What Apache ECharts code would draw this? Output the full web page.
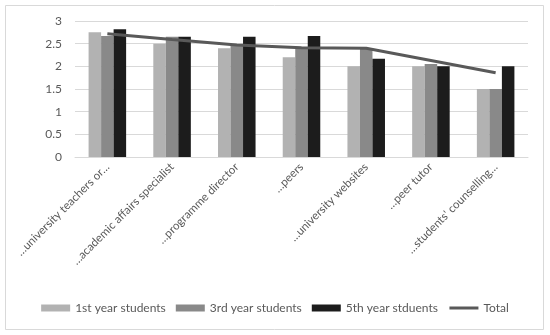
<!DOCTYPE html>
<html><head><meta charset="utf-8">
<script src="https://cdn.jsdelivr.net/npm/echarts@6/dist/echarts.min.js"></script>
<style>html,body{margin:0;padding:0;background:#fff}#c{width:550px;height:335px}</style>
</head><body><div id="c"></div>
<script>
const categories = ["…university teachers or…","…academic affairs specialist","…programme director","…peers","…university websites","…peer tutor","…students' counselling…"];
const firstYear = [2.75, 2.5, 2.4, 2.2, 2.0, 2.0, 1.5];
const thirdYear = [2.67, 2.65, 2.45, 2.4, 2.4, 2.05, 1.5];
const fifthYear = [2.82, 2.65, 2.65, 2.67, 2.17, 2.0, 2.0];
const total = [2.72, 2.59, 2.47, 2.41, 2.4, 2.13, 1.86];
const seriesNames = ["1st year students","3rd year students","5th year stduents","Total"];
const yTicks = [0, 0.5, 1, 1.5, 2, 2.5, 3];

const chart = echarts.init(document.getElementById('c'), null, {renderer:'canvas'});
const font = 'Lato, "Open Sans", sans-serif';
chart.setOption({
  animation:false,
  backgroundColor:'#fff',
  graphic:[{type:'rect',shape:{x:5.5,y:5.5,width:538,height:324},style:{fill:'none',stroke:'#d9d9d9',lineWidth:1}}],
  grid:{left:75,right:22,top:21,bottom:178},
  legend:{bottom:16,left:'center',itemWidth:29,itemHeight:7,itemGap:10,
    textStyle:{color:'#595959',fontSize:12,fontFamily:font},
    data:[{name:seriesNames[0],icon:'rect'},{name:seriesNames[1],icon:'rect'},{name:seriesNames[2],icon:'rect'},
      {name:seriesNames[3],itemStyle:{opacity:0},lineStyle:{width:3,color:'#595959'}}]},
  xAxis:{type:'category',data:categories,
    axisLine:{lineStyle:{color:'#d9d9d9'}},axisTick:{show:false},
    axisLabel:{rotate:45,interval:0,color:'#595959',fontSize:11.5,fontFamily:font,margin:8}},
  yAxis:{type:'value',min:0,max:3,interval:0.5,
    axisLine:{show:false},axisTick:{show:false},
    splitLine:{lineStyle:{color:'#d9d9d9'}},
    axisLabel:{color:'#595959',fontSize:12,fontFamily:font,margin:13,
      formatter:v=>yTicks.includes(v)?String(v):''}},
  series:[
    {name:seriesNames[0],type:'bar',data:firstYear,itemStyle:{color:'#b2b2b2'},barGap:'0%',barCategoryGap:'42%'},
    {name:seriesNames[1],type:'bar',data:thirdYear,itemStyle:{color:'#898989'}},
    {name:seriesNames[2],type:'bar',data:fifthYear,itemStyle:{color:'#1c1c1c'}},
    {name:seriesNames[3],type:'line',data:total,symbol:'none',lineStyle:{color:'#595959',width:3},itemStyle:{color:'#595959'}}
  ]
});
</script></body></html>
